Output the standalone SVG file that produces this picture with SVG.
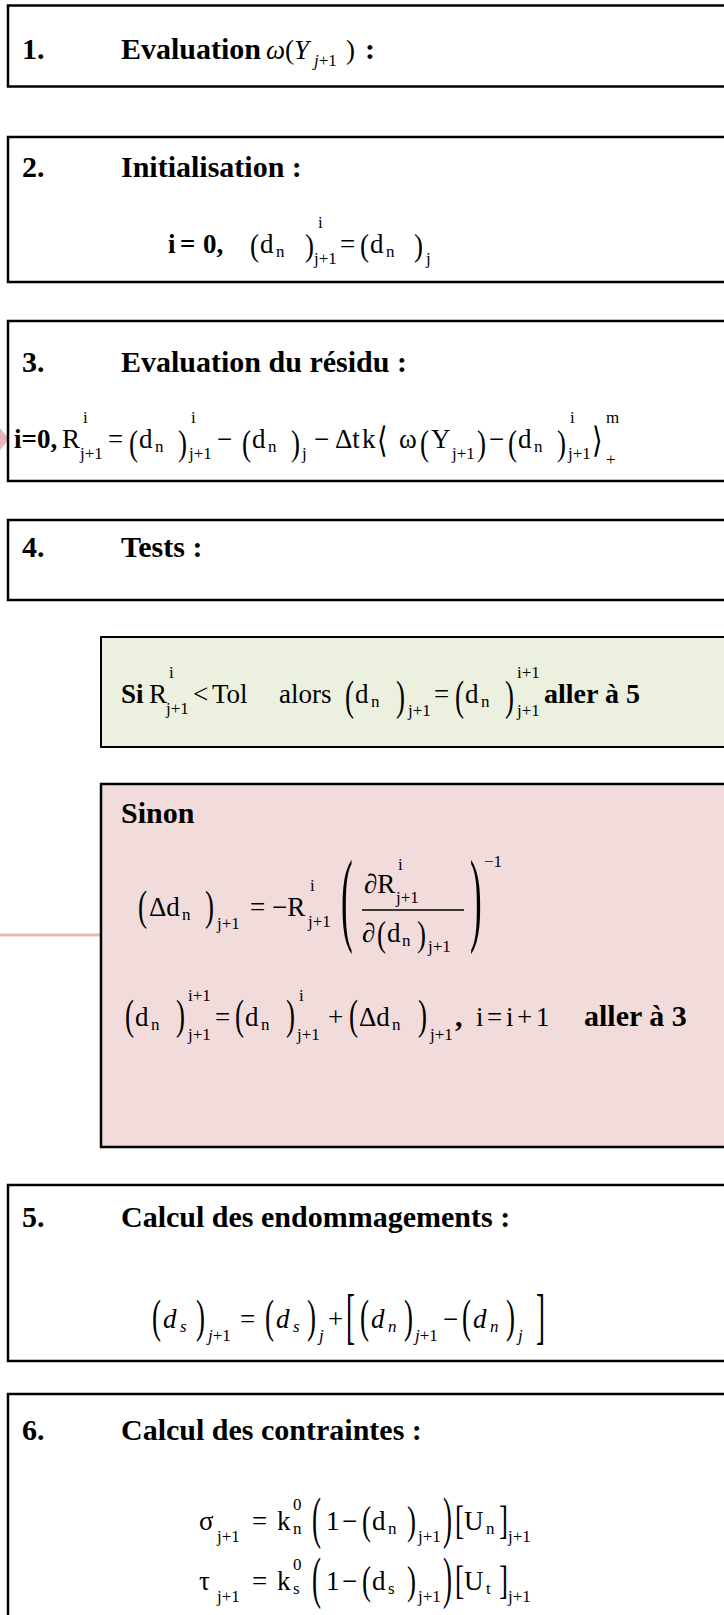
<svg xmlns="http://www.w3.org/2000/svg" width="724" height="1615" viewBox="0 0 724 1615">
<style>
text { font-family: "Liberation Serif", "Times New Roman", "DejaVu Serif", serif; fill:#000; }
.hd { font-size:30px; font-weight:bold; }
.m { font-size:27px; }
.s { font-size:17px; }
.it { font-style:italic; }
.bd { font-weight:bold; }
.box { fill:#fff; stroke:#000; stroke-width:2.5; }
.green { fill:#ebf1de; stroke:#000; stroke-width:2; }
.pink { fill:#f2dcdb; stroke:#000; stroke-width:2.5; }
.conn { stroke:#e6b9b8; stroke-width:3; fill:none; }
.arrow { fill:#e6b9b8; }
.bar { stroke:#000; stroke-width:1.3; }
</style>

<g id="connectors">
  <line class="conn" x1="0" y1="935" x2="100" y2="935"/>
  <polygon class="arrow" points="0,428 9,439 0,450"/>
</g>

<g id="step1">
  <rect class="box" x="8" y="5.5" width="740" height="81"/>
  <text class="hd" x="22" y="59">1.</text>
  <text class="hd" x="121" y="59">Evaluation</text>
  <text class="m it" x="266" y="59">ω</text>
  <text class="m" x="285" y="59">(</text>
  <text class="m it" x="294" y="59">Y</text>
  <text class="s" x="314" y="66"><tspan class="it">j</tspan>+1</text>
  <text class="m" x="346" y="59">)</text>
  <text class="hd" x="365" y="59">:</text>
</g>

<g id="step2">
  <rect class="box" x="8" y="137" width="740" height="145"/>
  <text class="hd" x="22" y="177">2.</text>
  <text class="hd" x="121" y="177">Initialisation :</text>
  <text class="m bd" x="168" y="253">i</text>
  <text class="m bd" x="180" y="253">=</text>
  <text class="m bd" x="203" y="253">0,</text>
  <text class="m" transform="translate(250,256) scale(1,1.2)">(</text>
  <text class="m" x="260" y="253">d</text>
  <text class="s" x="276" y="257">n</text>
  <text class="m" transform="translate(305,256) scale(1,1.2)">)</text>
  <text class="s" x="318" y="228">i</text>
  <text class="s" x="314" y="264">j+1</text>
  <text class="m" x="340" y="253">=</text>
  <text class="m" transform="translate(360,256) scale(1,1.2)">(</text>
  <text class="m" x="370" y="253">d</text>
  <text class="s" x="386" y="257">n</text>
  <text class="m" transform="translate(414,256) scale(1,1.2)">)</text>
  <text class="s" x="426" y="264">j</text>
</g>

<g id="step3">
  <rect class="box" x="8" y="321" width="740" height="160"/>
  <text class="hd" x="22" y="372">3.</text>
  <text class="hd" x="121" y="372">Evaluation du résidu :</text>
  <text class="m bd" x="14" y="448">i=0,</text>
  <text class="m" x="62" y="448">R</text>
  <text class="s" x="83" y="423">i</text>
  <text class="s" x="80" y="459">j+1</text>
  <text class="m" x="108" y="448">=</text>
  <text class="m" transform="translate(129,455) scale(1,1.3)">(</text>
  <text class="m" x="139" y="448">d</text>
  <text class="s" x="155" y="452">n</text>
  <text class="m" transform="translate(178,455) scale(1,1.3)">)</text>
  <text class="s" x="191" y="423">i</text>
  <text class="s" x="189" y="459">j+1</text>
  <text class="m" x="217" y="448">−</text>
  <text class="m" transform="translate(242,455) scale(1,1.3)">(</text>
  <text class="m" x="252" y="448">d</text>
  <text class="s" x="268" y="452">n</text>
  <text class="m" transform="translate(291,455) scale(1,1.3)">)</text>
  <text class="s" x="302" y="459">j</text>
  <text class="m" x="314" y="448">−</text>
  <text class="m" x="335" y="448">Δt</text>
  <text class="m" x="362" y="448">k</text>
  <text class="m" transform="translate(377,452) scale(1,1.3)">⟨</text>
  <text class="m" x="399" y="448">ω</text>
  <text class="m" transform="translate(420,455) scale(1,1.3)">(</text>
  <text class="m" x="431" y="448">Y</text>
  <text class="s" x="452" y="459">j+1</text>
  <text class="m" transform="translate(477,455) scale(1,1.3)">)</text>
  <text class="m" x="489" y="448">−</text>
  <text class="m" transform="translate(508,455) scale(1,1.3)">(</text>
  <text class="m" x="518" y="448">d</text>
  <text class="s" x="534" y="452">n</text>
  <text class="m" transform="translate(557,455) scale(1,1.3)">)</text>
  <text class="s" x="570" y="423">i</text>
  <text class="s" x="568" y="459">j+1</text>
  <text class="m" transform="translate(592,452) scale(1,1.3)">⟩</text>
  <text class="s" x="606" y="423">m</text>
  <text class="s" x="606" y="465">+</text>
</g>

<g id="step4">
  <rect class="box" x="8" y="520" width="740" height="80"/>
  <text class="hd" x="22" y="557">4.</text>
  <text class="hd" x="121" y="557">Tests :</text>
</g>

<g id="test-if">
  <rect class="green" x="101" y="637" width="640" height="110"/>
  <text class="hd" x="121" y="703" style="font-size:27px">Si</text>
  <text class="m" x="149" y="703">R</text>
  <text class="s" x="169" y="678">i</text>
  <text class="s" x="166" y="714">j+1</text>
  <text class="m" x="193" y="703">&lt;</text>
  <text class="m" x="212" y="703">Tol</text>
  <text class="m" x="279" y="703">alors</text>
  <text class="m" transform="translate(345,710) scale(1,1.6)">(</text>
  <text class="m" x="355" y="703">d</text>
  <text class="s" x="371" y="707">n</text>
  <text class="m" transform="translate(396,710) scale(1,1.6)">)</text>
  <text class="s" x="408" y="716">j+1</text>
  <text class="m" x="434" y="703">=</text>
  <text class="m" transform="translate(455,710) scale(1,1.6)">(</text>
  <text class="m" x="465" y="703">d</text>
  <text class="s" x="481" y="707">n</text>
  <text class="m" transform="translate(505,710) scale(1,1.6)">)</text>
  <text class="s" x="517" y="678">i+1</text>
  <text class="s" x="517" y="716">j+1</text>
  <text class="hd" x="544" y="703" style="font-size:28px">aller à 5</text>
</g>

<g id="test-else">
  <rect class="pink" x="101" y="784" width="640" height="363"/>
  <text class="hd" x="121" y="823">Sinon</text>
  <text class="m" transform="translate(138,920) scale(1,1.6)">(</text>
  <text class="m" x="149" y="916">Δd</text>
  <text class="s" x="182" y="920">n</text>
  <text class="m" transform="translate(205,920) scale(1,1.6)">)</text>
  <text class="s" x="217" y="929">j+1</text>
  <text class="m" x="250" y="916">=</text>
  <text class="m" x="272" y="916">−R</text>
  <text class="s" x="310" y="891">i</text>
  <text class="s" x="308" y="927">j+1</text>
  <text class="m" transform="translate(341,932) scale(1.3,3.85)">(</text>
  <text class="m" x="364" y="893">∂R</text>
  <text class="s" x="398" y="870">i</text>
  <text class="s" x="396" y="903">j+1</text>
  <line class="bar" x1="362" y1="910" x2="464" y2="910"/>
  <text class="m" x="362" y="942">∂</text>
  <text class="m" transform="translate(377,946) scale(1,1.3)">(</text>
  <text class="m" x="387" y="942">d</text>
  <text class="s" x="402" y="946">n</text>
  <text class="m" transform="translate(417,946) scale(1,1.3)">)</text>
  <text class="s" x="428" y="952">j+1</text>
  <text class="m" transform="translate(470,932) scale(1.3,3.85)">)</text>
  <text class="s" x="484" y="867">−1</text>

  <text class="m" transform="translate(125,1029) scale(1,1.6)">(</text>
  <text class="m" x="135" y="1026">d</text>
  <text class="s" x="151" y="1030">n</text>
  <text class="m" transform="translate(176,1029) scale(1,1.6)">)</text>
  <text class="s" x="188" y="1001">i+1</text>
  <text class="s" x="188" y="1040">j+1</text>
  <text class="m" x="215" y="1026">=</text>
  <text class="m" transform="translate(235,1029) scale(1,1.6)">(</text>
  <text class="m" x="245" y="1026">d</text>
  <text class="s" x="261" y="1030">n</text>
  <text class="m" transform="translate(286,1029) scale(1,1.6)">)</text>
  <text class="s" x="299" y="1001">i</text>
  <text class="s" x="297" y="1040">j+1</text>
  <text class="m" x="328" y="1026">+</text>
  <text class="m" transform="translate(349,1029) scale(1,1.6)">(</text>
  <text class="m" x="359" y="1026">Δd</text>
  <text class="s" x="392" y="1030">n</text>
  <text class="m" transform="translate(418,1029) scale(1,1.6)">)</text>
  <text class="s" x="430" y="1040">j+1</text>
  <text class="hd" x="455" y="1026">,</text>
  <text class="m" x="476" y="1026">i</text>
  <text class="m" x="487" y="1026">=</text>
  <text class="m" x="506" y="1026">i</text>
  <text class="m" x="517" y="1026">+</text>
  <text class="m" x="536" y="1026">1</text>
  <text class="hd" x="584" y="1026">aller à 3</text>
</g>

<g id="step5">
  <rect class="box" x="8" y="1185" width="740" height="176"/>
  <text class="hd" x="22" y="1227">5.</text>
  <text class="hd" x="121" y="1227">Calcul des endommagements :</text>
  <text class="m" transform="translate(152,1332) scale(1,1.7)">(</text>
  <text class="m it" x="163" y="1328">d</text>
  <text class="s it" x="180" y="1332">s</text>
  <text class="m" transform="translate(196,1332) scale(1,1.7)">)</text>
  <text class="s" x="208" y="1341"><tspan class="it">j</tspan>+1</text>
  <text class="m" x="240" y="1328">=</text>
  <text class="m" transform="translate(265,1332) scale(1,1.7)">(</text>
  <text class="m it" x="276" y="1328">d</text>
  <text class="s it" x="293" y="1332">s</text>
  <text class="m" transform="translate(307,1332) scale(1,1.7)">)</text>
  <text class="s it" x="319" y="1341">j</text>
  <text class="m" x="328" y="1328">+</text>
  <text class="m" transform="translate(346,1337) scale(1,2.25)">[</text>
  <text class="m" transform="translate(360,1332) scale(1,1.7)">(</text>
  <text class="m it" x="371" y="1328">d</text>
  <text class="s it" x="388" y="1332">n</text>
  <text class="m" transform="translate(404,1332) scale(1,1.7)">)</text>
  <text class="s" x="415" y="1341"><tspan class="it">j</tspan>+1</text>
  <text class="m" x="443" y="1328">−</text>
  <text class="m" transform="translate(462,1332) scale(1,1.7)">(</text>
  <text class="m it" x="473" y="1328">d</text>
  <text class="s it" x="490" y="1332">n</text>
  <text class="m" transform="translate(506,1332) scale(1,1.7)">)</text>
  <text class="s it" x="518" y="1341">j</text>
  <text class="m" transform="translate(536,1337) scale(1,2.25)">]</text>
</g>

<g id="step6">
  <rect class="box" x="8" y="1394" width="740" height="300"/>
  <text class="hd" x="22" y="1440">6.</text>
  <text class="hd" x="121" y="1440">Calcul des contraintes :</text>

  <text class="m" x="199" y="1530">σ</text>
  <text class="s" x="217" y="1542">j+1</text>
  <text class="m" x="252" y="1530">=</text>
  <text class="m" x="277" y="1530">k</text>
  <text class="s" x="293" y="1510">0</text>
  <text class="s" x="293" y="1534">n</text>
  <text class="m" transform="translate(312,1537) scale(1,2.15)">(</text>
  <text class="m" x="326" y="1530">1</text>
  <text class="m" x="342" y="1530">−</text>
  <text class="m" transform="translate(362,1534) scale(1,1.5)">(</text>
  <text class="m" x="372" y="1530">d</text>
  <text class="s" x="388" y="1534">n</text>
  <text class="m" transform="translate(407,1534) scale(1,1.5)">)</text>
  <text class="s" x="418" y="1542">j+1</text>
  <text class="m" transform="translate(443,1537) scale(1,2.15)">)</text>
  <text class="m" transform="translate(455,1534) scale(1,1.5)">[</text>
  <text class="m" x="464" y="1530">U</text>
  <text class="s" x="486" y="1534">n</text>
  <text class="m" transform="translate(499,1534) scale(1,1.5)">]</text>
  <text class="s" x="508" y="1542">j+1</text>

  <text class="m" x="199" y="1590">τ</text>
  <text class="s" x="217" y="1602">j+1</text>
  <text class="m" x="252" y="1590">=</text>
  <text class="m" x="277" y="1590">k</text>
  <text class="s" x="293" y="1570">0</text>
  <text class="s" x="293" y="1594">s</text>
  <text class="m" transform="translate(312,1597) scale(1,2.15)">(</text>
  <text class="m" x="326" y="1590">1</text>
  <text class="m" x="342" y="1590">−</text>
  <text class="m" transform="translate(362,1594) scale(1,1.5)">(</text>
  <text class="m" x="372" y="1590">d</text>
  <text class="s" x="388" y="1594">s</text>
  <text class="m" transform="translate(407,1594) scale(1,1.5)">)</text>
  <text class="s" x="418" y="1602">j+1</text>
  <text class="m" transform="translate(443,1597) scale(1,2.15)">)</text>
  <text class="m" transform="translate(455,1594) scale(1,1.5)">[</text>
  <text class="m" x="464" y="1590">U</text>
  <text class="s" x="486" y="1594">t</text>
  <text class="m" transform="translate(499,1594) scale(1,1.5)">]</text>
  <text class="s" x="508" y="1602">j+1</text>
</g>
</svg>
